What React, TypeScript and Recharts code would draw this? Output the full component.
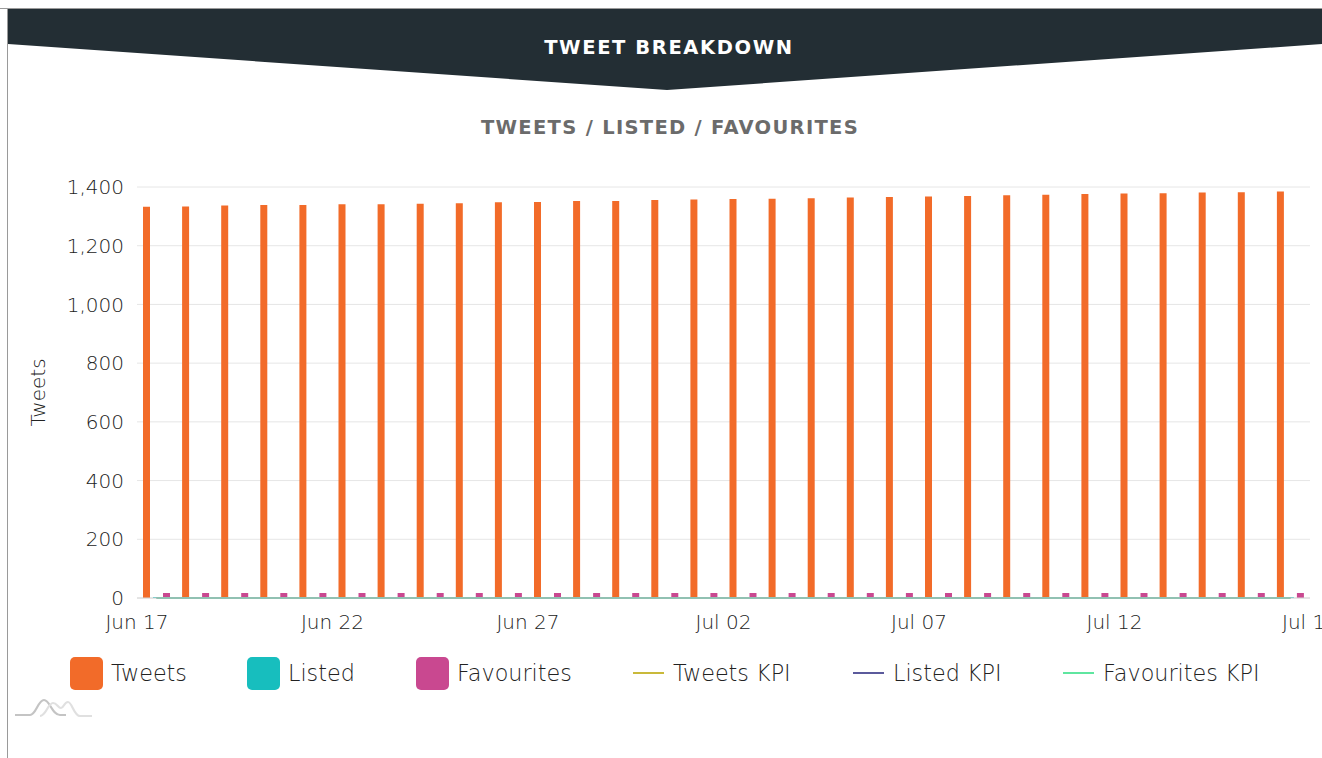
import React from "react";
import {
  ComposedChart,
  Bar,
  Line,
  XAxis,
  YAxis,
  CartesianGrid,
  Legend,
} from "recharts";

const days: number[] = Array.from({ length: 30 }, (_, i) => i);
const tweets: number[] = [
  1333, 1334, 1337, 1339, 1339, 1341, 1341, 1343, 1345, 1348,
  1349, 1352, 1352, 1356, 1357, 1359, 1360, 1362, 1364, 1366,
  1368, 1369, 1372, 1374, 1376, 1378, 1379, 1381, 1382, 1385,
];
const listed: number[] = [
  3, 3, 3, 3, 3, 3, 3, 3, 3, 3, 3, 3, 3, 3, 3,
  3, 3, 3, 3, 3, 3, 3, 3, 3, 3, 3, 3, 3, 3, 3,
];
const favourites: number[] = [
  17, 17, 17, 17, 17, 17, 17, 17, 17, 17, 17, 17, 17, 17, 17,
  17, 17, 17, 17, 17, 17, 17, 17, 17, 17, 17, 17, 17, 17, 17,
];
const tweetsKpi: number[] = days.map(() => 0);
const listedKpi: number[] = days.map(() => 0);
const favouritesKpi: number[] = days.map(() => 0);

const xTickValues: number[] = [0, 5, 10, 15, 20, 25, 30];
const xTickLabels: string[] = ["Jun 17", "Jun 22", "Jun 27", "Jul 02", "Jul 07", "Jul 12", "Jul 17"];
const yTicks: number[] = [0, 200, 400, 600, 800, 1000, 1200, 1400];

const seriesNames: string[] = ["Tweets", "Listed", "Favourites", "Tweets KPI", "Listed KPI", "Favourites KPI"];
const seriesColors: string[] = ["#f26b29", "#17bebe", "#c94890", "#c9b93a", "#5b5a9c", "#5fe6a0"];

const data = days.map((d, i) => ({
  x: d + 0.5,
  tweets: tweets[i],
  listed: listed[i],
  favourites: favourites[i],
  tweetsKpi: tweetsKpi[i],
  listedKpi: listedKpi[i],
  favouritesKpi: favouritesKpi[i],
}));

const FONT = "'DejaVu Sans', 'Open Sans', sans-serif";
const TEXT = "#222";
const legendLefts = [70, 247, 416, 633, 853, 1063];

const LegendContent = () => (
  <div style={{ position: "relative", width: 1322, height: 40 }}>
    {seriesNames.map((name, i) => {
      const isBar = i < 3;
      return (
        <div
          key={name}
          style={{
            position: "absolute",
            left: legendLefts[i],
            top: 1,
            display: "flex",
            alignItems: "center",
            height: 34,
          }}
        >
          {isBar ? (
            <div
              style={{
                width: 33,
                height: 33,
                borderRadius: 5,
                background: seriesColors[i],
                marginRight: 8,
              }}
            />
          ) : (
            <div
              style={{
                width: 31,
                height: 1.5,
                background: seriesColors[i],
                marginRight: 9,
              }}
            />
          )}
          <span style={{ fontFamily: FONT, fontSize: 22.3, color: TEXT, fontWeight: 200 }}>{name}</span>
        </div>
      );
    })}
  </div>
);

const YLabel = (props: any) => {
  const vb = props.viewBox || {};
  const cx = vb.x - 19;
  const cy = vb.y + vb.height / 2;
  return (
    <text
      x={cx}
      y={cy}
      transform={`rotate(-90, ${cx}, ${cy})`}
      textAnchor="middle"
      dominantBaseline="central"
      fill={TEXT}
      fontSize={20}
      fontFamily={FONT}
      fontWeight={200}
    >
      Tweets
    </text>
  );
};

export default function App() {
  return (
    <div
      style={{
        position: "absolute",
        left: 0,
        top: 0,
        width: 1322,
        height: 758,
        background: "#fff",
        overflow: "hidden",
        fontFamily: FONT,
      }}
    >
      <svg width={1322} height={758} style={{ position: "absolute", left: 0, top: 0 }}>
        <line x1={0} y1={8.5} x2={1322} y2={8.5} stroke="#9a9a9a" strokeWidth={1} />
        <line x1={7.5} y1={8} x2={7.5} y2={758} stroke="#9a9a9a" strokeWidth={1} />
        <polygon points="8,9 1322,9 1322,44 667,90 8,44" fill="#232e34" />
        <text
          x={669}
          y={47}
          textAnchor="middle"
          dominantBaseline="central"
          fill="#fff"
          fontSize={19.5}
          fontWeight={700}
          fontFamily={FONT}
          letterSpacing={1.6}
        >
          TWEET BREAKDOWN
        </text>
        <text
          x={670}
          y={127}
          textAnchor="middle"
          dominantBaseline="central"
          fill="#6b6b6b"
          fontSize={19.5}
          fontWeight={700}
          fontFamily={FONT}
          letterSpacing={1.3}
        >
          TWEETS / LISTED / FAVOURITES
        </text>
        <path
          d="M15 715 L30 715 C36 715 38 700 44 700 C50 700 52 715 60 715 L66 715"
          fill="none"
          stroke="#c4c4c4"
          strokeWidth={2.2}
        />
        <path
          d="M40 716 C46 716 48 703 53 703 C57 703 58 708 61 708 C64 708 64 702 68 702 C72 702 74 716 80 716 L92 716"
          fill="none"
          stroke="#e0e0e0"
          strokeWidth={2.2}
        />
      </svg>
      <div style={{ position: "absolute", left: 0, top: 0 }}>
        <ComposedChart
          width={1322}
          height={758}
          data={data}
          margin={{ top: 187, right: 12, left: 57, bottom: 80 }}
          barGap={3}
        >
          <CartesianGrid vertical={false} stroke="#e6e6e6" />
          <XAxis
            dataKey="x"
            type="number"
            domain={[0, 30]}
            ticks={xTickValues}
            interval={0}
            tickFormatter={(v: number) => xTickLabels[xTickValues.indexOf(v)]}
            tickLine={false}
            axisLine={{ stroke: "#d6d6d6" }}
            tick={{ fill: TEXT, fontSize: 20, fontFamily: FONT, fontWeight: 200 }}
            tickMargin={11}
            height={40}
            allowDataOverflow
          />
          <YAxis
            type="number"
            domain={[0, 1400]}
            ticks={yTicks}
            interval={0}
            width={80}
            tickFormatter={(v: number) => v.toLocaleString("en-US")}
            tickLine={false}
            axisLine={false}
            tick={{ fill: TEXT, fontSize: 20, fontFamily: FONT, fontWeight: 200 }}
            tickMargin={7}
            label={<YLabel />}
          />
          <Legend
            content={<LegendContent />}
            wrapperStyle={{ position: "absolute", left: 0, top: 655, width: 1322, height: 40 }}
          />
          <Bar dataKey="tweets" name="Tweets" fill={seriesColors[0]} barSize={7} isAnimationActive={false} />
          <Bar dataKey="listed" name="Listed" fill={seriesColors[1]} barSize={7} isAnimationActive={false} />
          <Bar dataKey="favourites" name="Favourites" fill={seriesColors[2]} barSize={7} isAnimationActive={false} />
          <Line dataKey="tweetsKpi" name="Tweets KPI" stroke={seriesColors[3]} dot={false} strokeWidth={1.5} isAnimationActive={false} />
          <Line dataKey="listedKpi" name="Listed KPI" stroke={seriesColors[4]} dot={false} strokeWidth={1.5} isAnimationActive={false} />
          <Line dataKey="favouritesKpi" name="Favourites KPI" stroke="#3fbf8e" dot={false} strokeWidth={1.5} isAnimationActive={false} />
        </ComposedChart>
      </div>
    </div>
  );
}
